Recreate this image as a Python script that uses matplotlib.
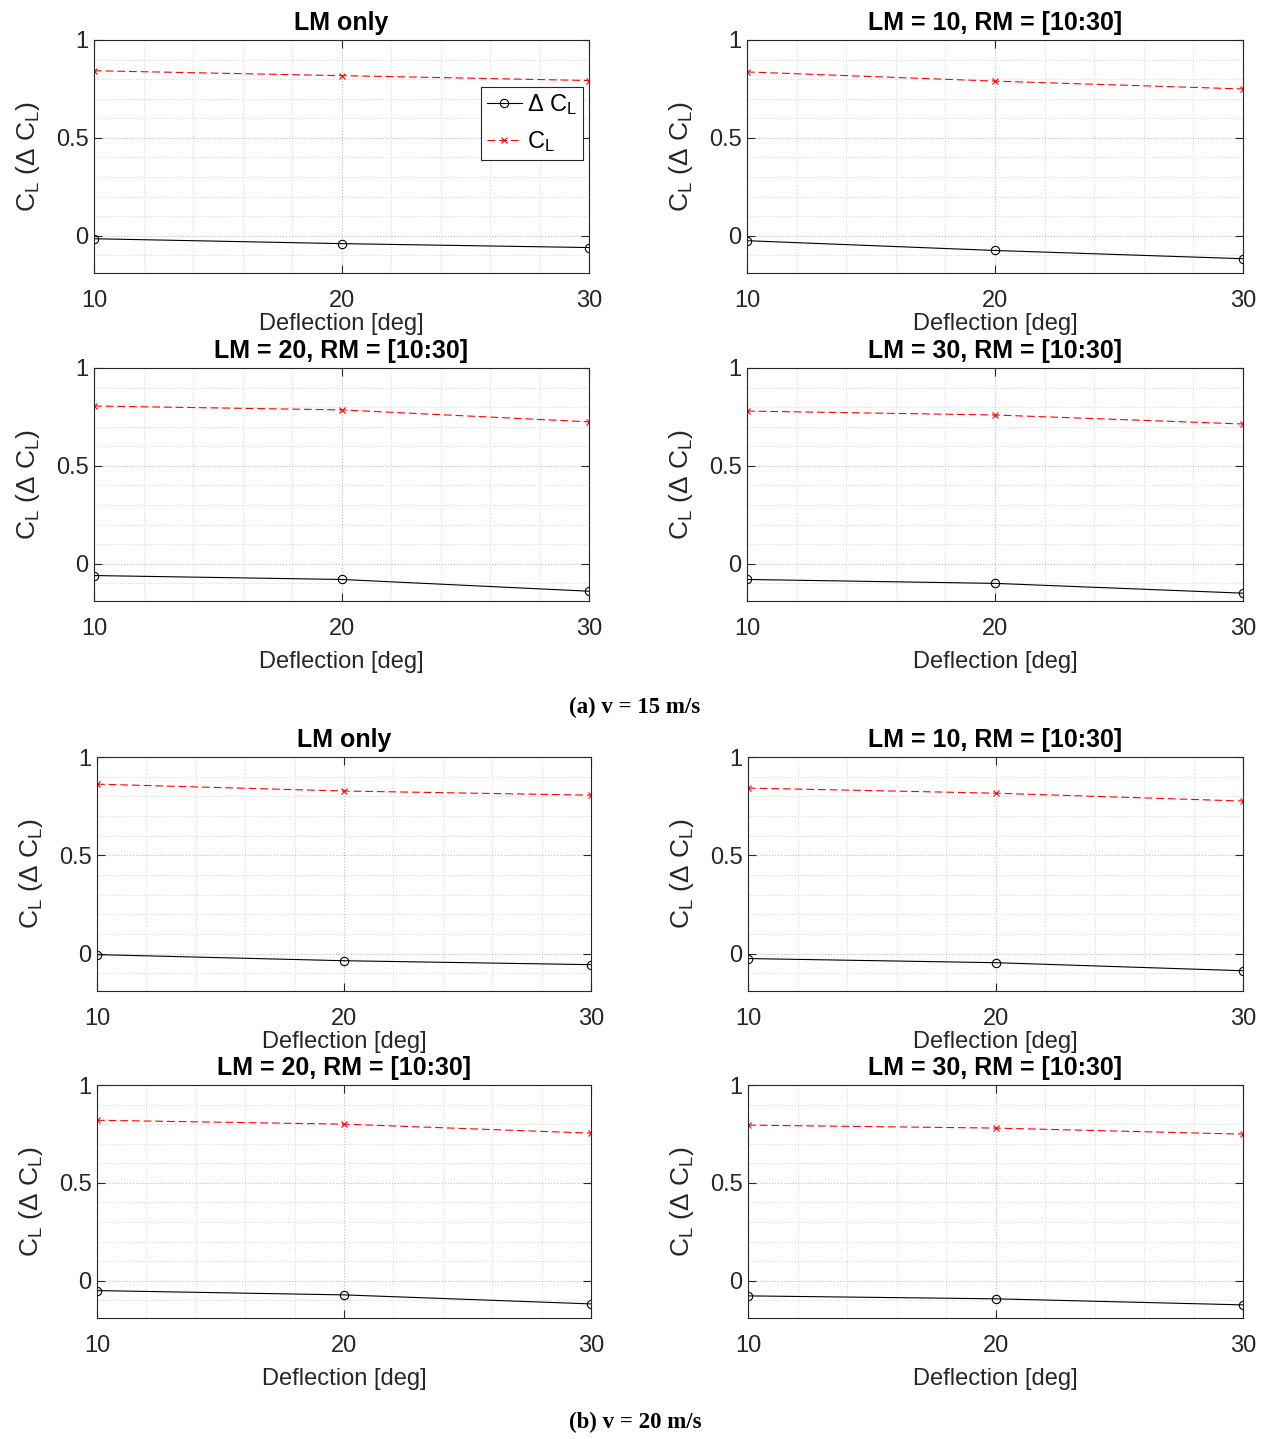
import numpy as np
import matplotlib
matplotlib.use("Agg")
import matplotlib.pyplot as plt

plt.rcParams['font.family'] = ['Liberation Sans', 'DejaVu Sans']
plt.rcParams['mathtext.fontset'] = 'custom'
plt.rcParams['mathtext.rm'] = 'Liberation Sans'
plt.rcParams['mathtext.it'] = 'Liberation Sans:italic'

deflection = [10, 20, 30]
titles = ["LM only", "LM = 10, RM = [10:30]", "LM = 20, RM = [10:30]", "LM = 30, RM = [10:30]"]

# v = 15 m/s
cl_15 = [[0.843, 0.818, 0.793],
         [0.837, 0.790, 0.750],
         [0.806, 0.786, 0.725],
         [0.780, 0.760, 0.714]]
dcl_15 = [[-0.015, -0.040, -0.060],
          [-0.025, -0.075, -0.117],
          [-0.060, -0.080, -0.140],
          [-0.080, -0.100, -0.150]]

# v = 20 m/s
cl_20 = [[0.862, 0.827, 0.806],
         [0.842, 0.816, 0.776],
         [0.820, 0.800, 0.754],
         [0.795, 0.780, 0.749]]
dcl_20 = [[-0.005, -0.036, -0.056],
          [-0.025, -0.046, -0.087],
          [-0.050, -0.072, -0.118],
          [-0.077, -0.092, -0.123]]

W, H = 1270, 1439
fig = plt.figure(figsize=(W / 100, H / 100), dpi=100)

# pixel boxes (left, right, top, bottom)
boxes_a = [(94, 589, 40, 273), (747, 1243, 40, 273), (94, 589, 368, 601), (747, 1243, 368, 601)]
boxes_b = [(97, 591, 757, 991), (748, 1243, 757, 991), (97, 591, 1085, 1318), (748, 1243, 1085, 1318)]
xpads = [1, 1, 8, 8]

axcol = '#262626'
ylab = r'C$_{\mathrm{L}}$ ($\Delta$ C$_{\mathrm{L}}$)'


def make_panel(boxes, cls, dcls, with_legend):
    for i, (l, r, t, b) in enumerate(boxes):
        ax = fig.add_axes([l / W, 1 - b / H, (r - l) / W, (b - t) / H])
        ax.plot(deflection, dcls[i], color='k', lw=0.8, marker='o', ms=6,
                mfc='none', mew=0.8, label=r'$\Delta$ C$_{\mathrm{L}}$')
        ax.plot(deflection, cls[i], color='r', lw=0.8, ls='--', marker='x', ms=5,
                mew=0.8, label=r'C$_{\mathrm{L}}$', dashes=(7, 3.5))
        ax.set_xlim(10, 30)
        ax.set_ylim(-0.19, 1)
        ax.set_xticks([10, 20, 30])
        ax.set_xticks(np.arange(10, 31, 2), minor=True)
        ax.set_yticks([0, 0.5, 1])
        ax.set_yticklabels(['0', '0.5', '1'])
        ax.set_yticks(np.arange(-0.1, 1.0, 0.1), minor=True)
        ax.grid(True, which='major', ls=':', color='#bdbdbd', lw=0.8)
        ax.grid(True, which='minor', ls=':', color='#d6d6d6', lw=0.7)
        ax.tick_params(which='major', direction='in', top=True, right=True,
                       length=6, width=0.8, colors=axcol, labelsize=17, labelcolor='#262626')
        ax.tick_params(axis='x', which='major', pad=12)
        ax.tick_params(axis='y', which='major', pad=4)
        ax.tick_params(which='minor', length=0)
        for s in ax.spines.values():
            s.set_color(axcol)
            s.set_linewidth(0.8)
        ax.set_title(titles[i], fontsize=18, fontweight='bold', pad=7)
        ax.set_xlabel('Deflection [deg]', fontsize=17, color='#262626', labelpad=xpads[i])
        ax.set_ylabel(ylab, fontsize=19, color='#262626', labelpad=10)
        if with_legend and i == 0:
            leg = ax.legend(loc='upper right', bbox_to_anchor=(0.988, 0.80), fontsize=17,
                            fancybox=False, framealpha=1, edgecolor=axcol,
                            handlelength=1.5, borderpad=0.25, labelspacing=0.5,
                            handletextpad=0.2, borderaxespad=0)
            leg.get_frame().set_linewidth(0.8)


make_panel(boxes_a, cl_15, dcl_15, True)
make_panel(boxes_b, cl_20, dcl_20, False)

fig.text(635 / W, 1 - 707 / H, '(a) v = 15 m/s', ha='center', va='center',
         fontsize=16.5, fontweight='bold', family='Liberation Serif')
fig.text(635 / W, 1 - 1422 / H, '(b) v = 20 m/s', ha='center', va='center',
         fontsize=16.5, fontweight='bold', family='Liberation Serif')

fig.savefig('out.png', dpi=100)
